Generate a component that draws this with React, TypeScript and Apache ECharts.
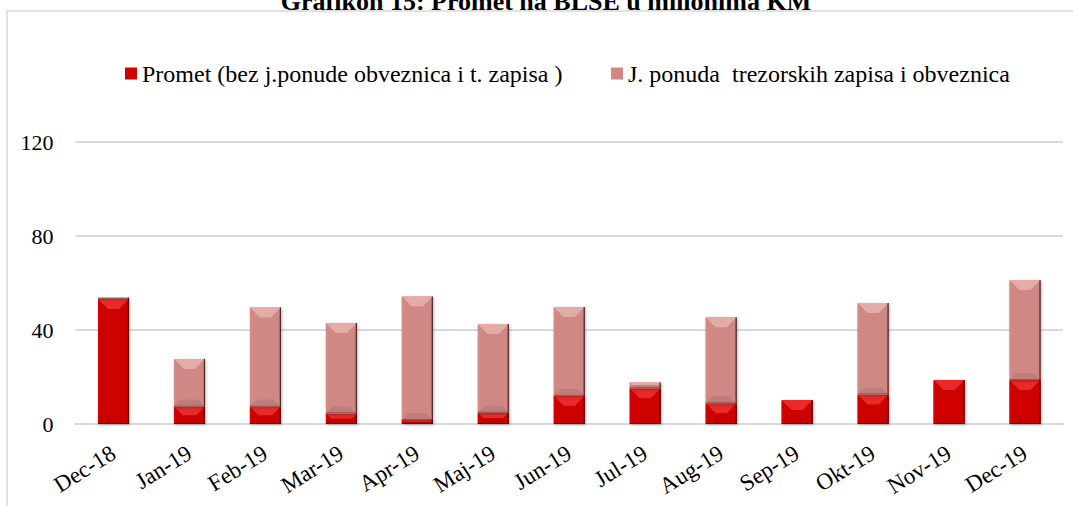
import React, { useEffect, useRef } from "react";
import * as echarts from "echarts";

const categories = ["Dec-18", "Jan-19", "Feb-19", "Mar-19", "Apr-19", "Maj-19", "Jun-19", "Jul-19", "Aug-19", "Sep-19", "Okt-19", "Nov-19", "Dec-19"];
const prometValues = [53.2, 7.4, 7.4, 4.5, 1.7, 4.8, 12.0, 15.2, 8.8, 10.2, 12.6, 18.7, 18.7];
const ponudaValues = [0.6, 20.3, 42.2, 38.5, 52.6, 37.8, 37.8, 2.5, 36.6, 0, 38.9, 0, 42.6];
const seriesNames = ["Promet (bez j.ponude obveznica i t. zapisa )", "J. ponuda  trezorskih zapisa i obveznica"];
const titleText = "Grafikon 15: Promet na BLSE u milionima KM";
const yTicks = { min: 0, max: 120, interval: 40 };

const FONT = "'Liberation Serif', 'Times New Roman', serif";

type Palette = { face: string; top: string; bottom: string; left: string; right: string; edge: string };
const redPal: Palette = { face: "#cf0000", top: "#e82a2a", bottom: "#c20000", left: "#d30404", right: "#c40000", edge: "#5a0000" };
const pinkPal: Palette = { face: "#cf8884", top: "#e4aca8", bottom: "#bd7e7a", left: "#d28d89", right: "#c27e7a", edge: "#4a2a2a" };

function makeRender(pal: Palette) {
  return (params: any, api: any) => {
    const idx = api.value(0);
    const lo = api.value(1);
    const hi = api.value(2);
    if (hi - lo <= 0) return { type: "group", children: [] };
    const pLo = api.coord([idx, lo]);
    const pHi = api.coord([idx, hi]);
    const w = 31;
    const l = pLo[0] - w / 2;
    const r = pLo[0] + w / 2;
    const top = pHi[1];
    const bot = pLo[1];
    const h = bot - top;
    const b = Math.min(10, h / 2, w / 2);
    const bb = Math.min(7, h / 2);
    const s = Math.min(2, h / 2);
    return {
      type: "group",
      children: [
        {
          type: "rect",
          shape: { x: l, y: top, width: w, height: h },
          style: { fill: pal.face, shadowColor: "rgba(0,0,0,0.3)", shadowBlur: 3, shadowOffsetX: 1, shadowOffsetY: 1 },
        },
        {
          type: "polygon",
          shape: { points: [[l, top], [l + s, top + b], [l + s, bot - bb], [l, bot]] },
          style: { fill: pal.left },
        },
        {
          type: "polygon",
          shape: { points: [[r, top], [r - s, top + b], [r - s, bot - bb], [r, bot]] },
          style: { fill: pal.right },
        },
        {
          type: "polygon",
          shape: { points: [[l, top], [r, top], [r - b, top + b], [l + b, top + b]] },
          style: { fill: pal.top },
        },
        {
          type: "polygon",
          shape: { points: [[l, bot], [r, bot], [r - bb, bot - bb], [l + bb, bot - bb]] },
          style: { fill: pal.bottom },
        },
        {
          type: "line",
          shape: { x1: r - 0.5, y1: top, x2: r - 0.5, y2: bot },
          style: { stroke: pal.edge, lineWidth: 1.2 },
        },
        {
          type: "line",
          shape: { x1: l, y1: bot - 0.5, x2: r, y2: bot - 0.5 },
          style: { stroke: pal.edge, lineWidth: 1, opacity: 0.45 },
        },
      ],
    };
  };
}

export default function App() {
  const ref = useRef<HTMLDivElement>(null);
  useEffect(() => {
    if (!ref.current) return;
    const chart = echarts.init(ref.current, undefined, { renderer: "svg" });
    const legendText = { fontFamily: FONT, fontSize: 24, color: "#000", lineHeight: 24 };
    const prometData = categories.map((_, i) => [i, 0, prometValues[i]]);
    const ponudaData = categories.map((_, i) => [i, prometValues[i], prometValues[i] + ponudaValues[i]]);
    chart.setOption({
      animation: false,
      backgroundColor: "#fff",
      textStyle: { fontFamily: FONT },
      graphic: [
        {
          type: "rect",
          shape: { x: 7, y: 11, width: 1100, height: 520 },
          style: { fill: "none", stroke: "#d9d9d9", lineWidth: 1.5 },
          silent: true,
        },
        {
          type: "text",
          x: 546,
          y: 1,
          style: {
            text: titleText,
            font: `bold 26px ${FONT}`,
            fill: "#000",
            align: "center",
            verticalAlign: "middle",
          },
        },
      ],
      legend: [
        {
          data: [seriesNames[0]],
          left: 125,
          top: 61.5,
          padding: 0,
          itemWidth: 12,
          itemHeight: 12,
          textStyle: legendText,
          icon: "rect",
        },
        {
          data: [seriesNames[1]],
          left: 611,
          top: 61.5,
          padding: 0,
          itemWidth: 12,
          itemHeight: 12,
          textStyle: legendText,
          icon: "rect",
        },
      ],
      grid: { left: 75.5, right: 10, top: 142, bottom: 82, containLabel: false },
      xAxis: {
        type: "category",
        data: categories,
        axisLine: { show: true, lineStyle: { color: "#d9d9d9", width: 2 } },
        axisTick: { show: false },
        axisLabel: {
          rotate: 32,
          margin: 27,
          fontFamily: FONT,
          fontSize: 23,
          color: "#000",
          interval: 0,
        },
      },
      yAxis: {
        type: "value",
        min: yTicks.min,
        max: yTicks.max,
        interval: yTicks.interval,
        axisLine: { show: false },
        axisTick: { show: false },
        splitLine: { lineStyle: { color: "#d9d9d9", width: 2 } },
        axisLabel: { fontFamily: FONT, fontSize: 22, color: "#000", margin: 22 },
      },
      series: [
        {
          name: seriesNames[0],
          type: "custom",
          data: prometData,
          encode: { x: 0, y: [1, 2] },
          itemStyle: { color: redPal.face },
          renderItem: makeRender(redPal),
        },
        {
          name: seriesNames[1],
          type: "custom",
          data: ponudaData,
          encode: { x: 0, y: [1, 2] },
          itemStyle: { color: pinkPal.face },
          renderItem: makeRender(pinkPal),
        },
      ],
    });
    return () => chart.dispose();
  }, []);
  return (
    <div
      ref={ref}
      style={{ position: "fixed", left: 0, top: 0, width: 1073, height: 506 }}
    />
  );
}
